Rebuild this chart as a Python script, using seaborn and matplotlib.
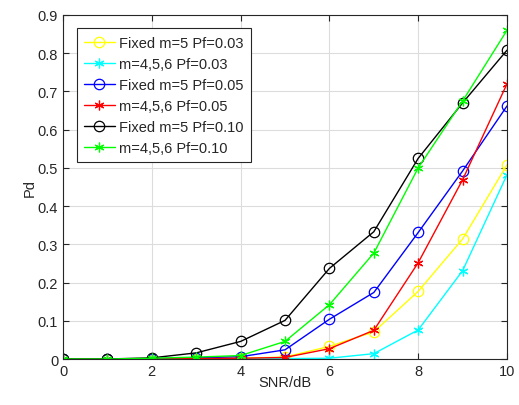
import numpy as np
import pandas as pd
import matplotlib
matplotlib.use("Agg")
import matplotlib.pyplot as plt
import seaborn as sns

# =====================================================
# DATA
# =====================================================

snr = [0, 1, 2, 3, 4, 5, 6, 7, 8, 9, 10]

fixed_003 = [0, 0, 0, 0.001, 0.002, 0.005, 0.033, 0.071, 0.177, 0.314, 0.508]
var_003 = [0, 0, 0, 0, 0, 0.001, 0.002, 0.014, 0.076, 0.231, 0.482]
fixed_005 = [0, 0, 0.001, 0.003, 0.006, 0.024, 0.104, 0.174, 0.331, 0.492, 0.662]
var_005 = [0, 0, 0, 0.001, 0.002, 0.004, 0.027, 0.075, 0.252, 0.469, 0.72]
fixed_010 = [0, 0, 0.003, 0.016, 0.046, 0.101, 0.237, 0.333, 0.525, 0.67, 0.808]
var_010 = [0, 0, 0.002, 0.005, 0.009, 0.046, 0.142, 0.277, 0.5, 0.675, 0.86]

labels = [
    "Fixed m=5 Pf=0.03",
    "m=4,5,6 Pf=0.03",
    "Fixed m=5 Pf=0.05",
    "m=4,5,6 Pf=0.05",
    "Fixed m=5 Pf=0.10",
    "m=4,5,6 Pf=0.10",
]
series = [fixed_003, var_003, fixed_005, var_005, fixed_010, var_010]
colors = ["#ffff00", "#00ffff", "#0000ff", "#ff0000", "#000000", "#00ff00"]
markers = ["o", (6, 2, 0), "o", (6, 2, 0), "o", (6, 2, 0)]

# =====================================================
# STYLE
# =====================================================

sns.set_style("whitegrid")
plt.rcParams["font.family"] = ["Liberation Sans", "DejaVu Sans"]
plt.rcParams["font.size"] = 10.5

fig = plt.figure(figsize=(5.19, 4.06), dpi=100)
ax = fig.add_axes([0.1214, 0.1133, 0.8555, 0.8473])

# =====================================================
# PLOT
# =====================================================

for lab, vals, col, mk in zip(labels, series, colors, markers):
    sns.lineplot(
        x=snr,
        y=vals,
        ax=ax,
        color=col,
        marker=mk,
        markersize=7.5 if mk == "o" else 7,
        markerfacecolor="none",
        markeredgecolor=col,
        markeredgewidth=0.9,
        linewidth=1.0,
        label=lab,
    )

ax.set_xlim(0, 10)
ax.set_ylim(0, 0.9)
ax.set_xticks([0, 2, 4, 6, 8, 10])
ax.set_yticks(np.round(np.arange(0, 0.91, 0.1), 1))
ax.set_yticklabels(["0", "0.1", "0.2", "0.3", "0.4", "0.5", "0.6", "0.7", "0.8", "0.9"])
ax.set_xlabel("SNR/dB", fontsize=10.5, color="#262626", labelpad=-2)
ax.set_ylabel("Pd", fontsize=10.5, color="#262626", labelpad=1)

ax.grid(True, color="#dcdcdc", linewidth=0.8)
for sp in ax.spines.values():
    sp.set_visible(True)
    sp.set_color("#262626")
    sp.set_linewidth(0.8)
ax.tick_params(direction="in", length=4, width=0.8, colors="#262626",
               labelsize=10.5, top=True, right=True, left=True, bottom=True,
               labeltop=False, labelright=False)

leg = ax.legend(
    loc="upper left",
    bbox_to_anchor=(0.031, 0.961),
    borderaxespad=0,
    fancybox=False,
    framealpha=1,
    edgecolor="#262626",
    fontsize=10.5,
    handlelength=2.1,
    handletextpad=0.3,
    labelspacing=0.48,
    borderpad=0.5,
)
leg.get_frame().set_linewidth(0.8)

fig.savefig("out.png", dpi=100)
plt.close()
